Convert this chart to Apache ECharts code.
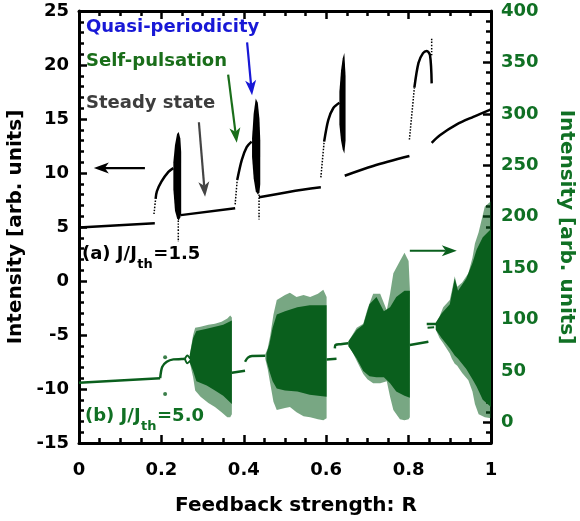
<!DOCTYPE html>
<html>
<head>
<meta charset="utf-8">
<script src="https://cdn.jsdelivr.net/npm/echarts@6/dist/echarts.min.js"></script>
<style>
html, body { margin: 0; padding: 0; background: #fff; }
#main { width: 580px; height: 521px; }
</style>
</head>
<body>
<div id="main"></div>
<script>
// ---- data ----
// (a) J/Jth = 1.5, left axis [R, intensity]
var steadyA1 = [[0, 4.95], [0.184, 5.34]];
var steadyA2 = [[0.247, 6.1], [0.379, 6.73]];
var steadyA3 = [[0.437, 7.75], [0.512, 8.27], [0.587, 8.67]];
var steadyA4 = [[0.645, 9.75], [0.714, 10.65], [0.802, 11.57]];
var steadyA5 = [[0.856, 12.8], [0.876, 13.5], [0.917, 14.5], [0.957, 15.2], [1.0, 15.9]];
var pulseA1 = [[0.186, 7.6], [0.189, 8.3], [0.2, 9.2], [0.217, 10.1], [0.229, 10.45]];
var pulseA2 = [[0.384, 9.35], [0.395, 11.2], [0.407, 12.4], [0.419, 12.9]];
var pulseA3 = [[0.595, 12.9], [0.605, 14.9], [0.617, 16.0], [0.632, 16.5]];
var pulseA4 = [[0.814, 17.9], [0.824, 20.2], [0.835, 21.1], [0.844, 21.3], [0.852, 20.9], [0.856, 18.3]];
var sparseA1 = [[0.182, 6.2], [0.186, 7.6]];
var sparseA2 = [[0.379, 7.1], [0.384, 9.35]];
var sparseA3 = [[0.587, 9.6], [0.595, 12.9]];
var sparseA4 = [[0.802, 13.1], [0.814, 17.9]];
var sparseA5 = [[0.856, 20.9], [0.856, 22.6]];
var tailA1 = [[0.241, 5.6], [0.241, 3.6]];
var tailA2 = [[0.437, 8.0], [0.437, 5.7]];
// quasi-periodic spindles [R, low, high]
var bandA1 = [[0.229, 8.5, 11.0], [0.233, 6.5, 12.6], [0.238, 5.8, 13.6], [0.242, 5.6, 13.8], [0.246, 5.9, 13.2], [0.248, 6.2, 12.0]];
var bandA2 = [[0.420, 11.5, 13.2], [0.424, 9.5, 15.5], [0.429, 8.3, 16.9], [0.434, 8.0, 16.5], [0.438, 8.2, 15.0], [0.440, 9.0, 13.0]];
var bandA3 = [[0.632, 14.5, 17.5], [0.636, 13.0, 19.5], [0.640, 12.2, 20.6], [0.644, 11.8, 21.1], [0.647, 13.0, 19.0]];

// (b) J/Jth = 5.0, right axis [R, intensity]
var steadyB1 = [[0, 38.6], [0.197, 42.9]];
var steadyB2 = [[0.371, 48.3], [0.403, 50.3]];
var steadyB3 = [[0.601, 61.3], [0.625, 61.8]];
var steadyB4 = [[0.803, 75.2], [0.848, 78.5]];
var pulseB1 = [[0.197, 43], [0.202, 54], [0.213, 59], [0.229, 61.3], [0.249, 61.6], [0.257, 61.8]];
var forkB1a = [[0.257, 61.8], [0.263, 65], [0.27, 62]];
var forkB1b = [[0.257, 61.8], [0.263, 57.5], [0.27, 60]];
var pulseB2 = [[0.403, 59], [0.41, 63], [0.42, 64.6], [0.452, 64.8]];
var pulseB3 = [[0.621, 72], [0.623, 75.5], [0.635, 76], [0.654, 76.9]];
var pulseB4a = [[0.844, 95.7], [0.868, 95.7]];
var pulseB4b = [[0.846, 92], [0.862, 92.5]];
var dotsB = [[0.209, 63.3], [0.209, 27.6]];
// chaotic regions: sparse outer envelope and dense core [R, low, high]
var outerB1 = [[0.269, 58, 66], [0.277, 44, 85], [0.282, 31, 92], [0.295, 25, 93], [0.314, 19, 95], [0.33, 15, 96], [0.346, 10, 98], [0.36, 5, 101], [0.367, 5, 104], [0.371, 8, 102]];
var coreB1 = [[0.269, 58, 66], [0.277, 50, 82], [0.285, 40, 89], [0.31, 36, 91], [0.33, 31, 93], [0.35, 26, 95], [0.371, 18, 99]];
var outerB2 = [[0.452, 62, 66], [0.458, 52, 72], [0.464, 38, 84], [0.472, 20, 105], [0.48, 12, 119], [0.5, 14, 124], [0.512, 15, 126], [0.528, 10, 122], [0.545, 6, 124], [0.561, 5, 122], [0.58, 3, 125], [0.593, 2, 129], [0.601, 4, 122]];
var coreB2 = [[0.455, 60, 67], [0.462, 50, 76], [0.47, 40, 92], [0.48, 33, 105], [0.5, 31, 108], [0.53, 30, 112], [0.56, 27, 114], [0.601, 25, 114]];
var outerB3 = [[0.654, 74, 79], [0.662, 70, 84], [0.674, 60, 92], [0.69, 47, 96], [0.7, 42, 110], [0.714, 38, 125], [0.731, 38, 125], [0.747, 40, 109], [0.755, 25, 125], [0.763, 12, 145], [0.779, 3, 157], [0.79, 2, 165], [0.8, 3, 157], [0.803, 5, 130]];
var coreB3 = [[0.654, 74, 79], [0.674, 62, 90], [0.69, 50, 95], [0.705, 45, 115], [0.722, 44, 122], [0.74, 44, 108], [0.755, 38, 112], [0.77, 30, 122], [0.79, 26, 128], [0.803, 24, 128]];
var outerB4 = [[0.866, 90, 97], [0.875, 82, 103], [0.884, 77, 112], [0.9, 67, 119], [0.905, 62, 128], [0.912, 57, 142], [0.918, 55, 132], [0.93, 48, 136], [0.945, 41, 145], [0.955, 30, 160], [0.961, 18, 174], [0.97, 8, 185], [0.985, 5, 210], [1.0, 4, 215]];
var coreB4 = [[0.866, 90, 97], [0.88, 82, 106], [0.9, 72, 115], [0.912, 65, 140], [0.92, 62, 128], [0.94, 52, 140], [0.955, 42, 155], [0.965, 35, 168], [0.98, 22, 180], [1.0, 15, 188]];

var rightLabels = [0, 50, 100, 150, 200, 250, 300, 350, 400];

var FONT = 'DejaVu Sans';
var GREEN = '#0a5f1d';
var GREEN_TXT = '#107024';
var BLUE = '#1818d6';
var GRAY = '#3d3d3d';

function lineS(data, yIdx, color, width, dotted) {
    return {
        type: 'line', data: data, xAxisIndex: 0, yAxisIndex: yIdx,
        showSymbol: false, smooth: 0.3, silent: true,
        lineStyle: { color: color, width: width, type: dotted ? 'dotted' : 'solid' }
    };
}

function bandS(data, yIdx, color, opacity) {
    return {
        type: 'custom', data: data, xAxisIndex: 0, yAxisIndex: yIdx, silent: true,
        encode: { x: 0, y: [1, 2] },
        renderItem: function (params, api) {
            if (params.dataIndexInside !== 0) return null;
            var n = params.dataInsideLength, top = [], bot = [];
            for (var i = 0; i < n; i++) {
                var x = api.value(0, i);
                top.push(api.coord([x, api.value(2, i)]));
                bot.unshift(api.coord([x, api.value(1, i)]));
            }
            return { type: 'polygon', shape: { points: top.concat(bot) }, style: { fill: color, opacity: opacity } };
        }
    };
}

var axisLine = { show: true, onZero: false, lineStyle: { color: '#000', width: 3 } };
var tickStyle = { color: '#000', width: 2.5 };
var labelStyle = { fontFamily: FONT, fontWeight: 'bold', fontSize: 18, color: '#000' };

var chart = echarts.init(document.getElementById('main'));

var series = [
    bandS(outerB1, 1, GREEN, 0.55), bandS(coreB1, 1, GREEN, 1),
    bandS(outerB2, 1, GREEN, 0.55), bandS(coreB2, 1, GREEN, 1),
    bandS(outerB3, 1, GREEN, 0.55), bandS(coreB3, 1, GREEN, 1),
    bandS(outerB4, 1, GREEN, 0.55), bandS(coreB4, 1, GREEN, 1),
    lineS(steadyB1, 1, GREEN, 2.5), lineS(steadyB2, 1, GREEN, 2.5),
    lineS(steadyB3, 1, GREEN, 2.5), lineS(steadyB4, 1, GREEN, 2.5),
    lineS(pulseB1, 1, GREEN, 2.5), lineS(forkB1a, 1, GREEN, 2), lineS(forkB1b, 1, GREEN, 2),
    lineS(pulseB2, 1, GREEN, 2.5), lineS(pulseB3, 1, GREEN, 2.5),
    lineS(pulseB4a, 1, GREEN, 2.5), lineS(pulseB4b, 1, GREEN, 2),
    {
        type: 'scatter', data: dotsB, xAxisIndex: 0, yAxisIndex: 1, silent: true,
        symbolSize: 4, itemStyle: { color: GREEN }
    },
    bandS(bandA1, 0, '#000', 1), bandS(bandA2, 0, '#000', 1), bandS(bandA3, 0, '#000', 1),
    lineS(steadyA1, 0, '#000', 2.5), lineS(steadyA2, 0, '#000', 2.5), lineS(steadyA3, 0, '#000', 2.5),
    lineS(steadyA4, 0, '#000', 2.5), lineS(steadyA5, 0, '#000', 2.5),
    lineS(pulseA1, 0, '#000', 2.5), lineS(pulseA2, 0, '#000', 2.5),
    lineS(pulseA3, 0, '#000', 2.5), lineS(pulseA4, 0, '#000', 2.5),
    lineS(sparseA1, 0, '#000', 1.5, true), lineS(sparseA2, 0, '#000', 1.5, true),
    lineS(sparseA3, 0, '#000', 1.5, true), lineS(sparseA4, 0, '#000', 1.5, true),
    lineS(sparseA5, 0, '#000', 1.5, true),
    lineS(tailA1, 0, '#000', 1.5, true), lineS(tailA2, 0, '#000', 1.5, true)
];

chart.setOption({
    animation: false,
    backgroundColor: '#fff',
    grid: { left: 79, right: 89, top: 11, bottom: 78, outerBoundsMode: 'none' },
    xAxis: [{
        type: 'value', min: 0, max: 1, interval: 0.2, position: 'bottom',
        axisLine: axisLine,
        axisTick: { inside: true, length: 8, lineStyle: tickStyle },
        minorTick: { show: true, splitNumber: 4, length: 5, lineStyle: tickStyle },
        axisLabel: Object.assign({ margin: 18 }, labelStyle),
        splitLine: { show: false },
        name: 'Feedback strength: R', nameLocation: 'middle', nameGap: 53,
        nameTextStyle: { fontFamily: FONT, fontWeight: 'bold', fontSize: 20, color: '#000', padding: [0, 0, 0, 22] }
    }, {
        type: 'value', min: 0, max: 1, interval: 0.2, position: 'top',
        axisLine: axisLine,
        axisTick: { inside: true, length: 8, lineStyle: tickStyle },
        minorTick: { show: true, splitNumber: 4, length: 5, lineStyle: tickStyle },
        axisLabel: { show: false },
        splitLine: { show: false }
    }],
    yAxis: [{
        type: 'value', min: -15, max: 25, interval: 5, position: 'left',
        axisLine: axisLine,
        axisTick: { inside: true, length: 8, lineStyle: tickStyle },
        minorTick: { show: true, splitNumber: 5, length: 5, lineStyle: tickStyle },
        axisLabel: Object.assign({ margin: 10 }, labelStyle),
        splitLine: { show: false },
        name: 'Intensity [arb. units]', nameLocation: 'middle', nameGap: 51,
        nameTextStyle: { fontFamily: FONT, fontWeight: 'bold', fontSize: 20, color: '#000' }
    }, {
        type: 'value', min: -20, max: 400, position: 'right',
        axisLine: axisLine,
        axisTick: { inside: true, length: 8, lineStyle: tickStyle, customValues: rightLabels },
        axisLabel: Object.assign({ margin: 10, customValues: rightLabels }, labelStyle, { color: GREEN_TXT }),
        splitLine: { show: false },
        name: 'Intensity [arb. units]', nameLocation: 'middle', nameGap: 65, nameRotate: -90,
        nameTextStyle: { fontFamily: FONT, fontWeight: 'bold', fontSize: 20, color: GREEN_TXT }
    }, {
        type: 'value', min: -20, max: 400, interval: 10, position: 'right',
        axisLine: { show: false, onZero: false },
        axisTick: { inside: true, length: 5, lineStyle: tickStyle },
        axisLabel: { show: false },
        splitLine: { show: false }
    }],
    series: series
});

// ---- annotations (arrows given in data coords of the left axis) ----
function px(p) { return chart.convertToPixel({ xAxisIndex: 0, yAxisIndex: 0 }, p); }
function arrow(a, b, color) {
    var p0 = px(a), p1 = px(b);
    var dx = p1[0] - p0[0], dy = p1[1] - p0[1], len = Math.sqrt(dx * dx + dy * dy);
    var ux = dx / len, uy = dy / len, nx = -uy, ny = ux;
    var L = 15, W = 5.5, N = 11;
    var back = [p1[0] - ux * L, p1[1] - uy * L];
    var notch = [p1[0] - ux * N, p1[1] - uy * N];
    return [{
        type: 'line', silent: true,
        shape: { x1: p0[0], y1: p0[1], x2: notch[0], y2: notch[1] },
        style: { stroke: color, lineWidth: 2.2 }
    }, {
        type: 'polygon', silent: true,
        shape: { points: [p1, [back[0] + nx * W, back[1] + ny * W], notch, [back[0] - nx * W, back[1] - ny * W]] },
        style: { fill: color }
    }];
}
function label(x, y, text, color, size) {
    return {
        type: 'text', left: x, top: y, silent: true,
        style: { text: text, fill: color, font: 'bold ' + (size || 18) + 'px "' + FONT + '"' }
    };
}
var measureCtx = document.createElement('canvas').getContext('2d');
function textW(text, size) {
    measureCtx.font = 'bold ' + size + 'px "' + FONT + '"';
    return measureCtx.measureText(text).width;
}
// "J/J_th" label: subscript drawn as its own lowered text
function jLabel(x, y, head, tail, color) {
    var w1 = textW(head, 18), w2 = textW('th', 13);
    return [
        label(x, y, head, color, 18),
        label(x + w1 + 0.5, y + 13, 'th', color, 13),
        label(x + w1 + w2 + 1, y, tail, color, 18)
    ];
}

var g = [];
g = g.concat(arrow([0.408, 22.1], [0.420, 17.2], BLUE));
g = g.concat(arrow([0.362, 19.1], [0.383, 12.8], '#1a6e1a'));
g = g.concat(arrow([0.291, 14.7], [0.306, 7.8], '#444'));
g = g.concat(arrow([0.160, 10.46], [0.036, 10.46], '#000'));
g = g.concat(arrow([0.803, 2.8], [0.917, 2.8], GREEN));
g.push(label(86, 18, 'Quasi-periodicity', BLUE));
g.push(label(86, 52, 'Self-pulsation', '#1a6e1a'));
g.push(label(86, 94, 'Steady state', GRAY));
g = g.concat(jLabel(82, 245, '(a) J/J', '=1.5', '#000'));
g = g.concat(jLabel(85, 407, '(b) J/J', '=5.0', GREEN_TXT));

chart.setOption({ graphic: g });
</script>
</body>
</html>
